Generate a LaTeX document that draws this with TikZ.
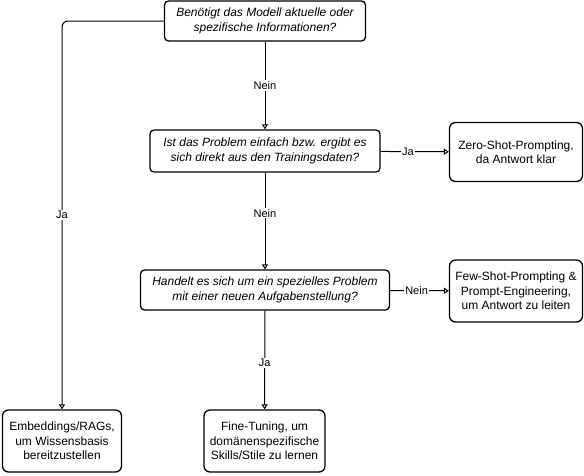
\documentclass[tikz,border=0pt]{standalone}
\usepackage{fontspec}
\setmainfont{Liberation Sans}
\usetikzlibrary{arrows.meta}
\tikzset{
  frage/.style={draw, line width=1.3pt, rounded corners=4pt, align=center, inner sep=0pt, font=\fontsize{12}{14.5}\selectfont\itshape},
  antwort/.style={draw, line width=1.3pt, rounded corners=6pt, align=center, inner sep=0pt, font=\fontsize{12}{14.5}\selectfont},
  beschriftung/.style={fill=white, inner sep=1pt, font=\fontsize{11}{13}\selectfont},
}
\begin{document}
\begin{tikzpicture}[x=1pt, y=-1pt, line width=1pt, >={Triangle[open, length=5pt, width=6pt]}]
\useasboundingbox (0,0) rectangle (584,475);
% Fragen
\node[frage, minimum width=201pt, minimum height=40pt] (frage1) at (265,21) {Benötigt das Modell aktuelle oder\\spezifische Informationen?};
\node[frage, minimum width=230pt, minimum height=42pt] (frage2) at (265,151) {Ist das Problem einfach bzw. ergibt es\\sich direkt aus den Trainingsdaten?};
\node[frage, minimum width=249pt, minimum height=40pt] (frage3) at (265,290) {Handelt es sich um ein spezielles Problem\\mit einer neuen Aufgabenstellung?};
% Antworten
\node[antwort, minimum width=133pt, minimum height=59pt] (zeroshot) at (516,152) {Zero-Shot-Prompting,\\da Antwort klar};
\node[antwort, minimum width=133pt, minimum height=62pt] (fewshot) at (516,291) {Few-Shot-Prompting \&\\Prompt-Engineering,\\um Antwort zu leiten};
\node[antwort, minimum width=121pt, minimum height=62pt] (finetuning) at (264.5,441) {Fine-Tuning, um\\domänenspezifische\\Skills/Stile zu lernen};
\node[antwort, minimum width=119pt, minimum height=62pt] (embeddings) at (62,441) {Embeddings/RAGs,\\um Wissensbasis\\bereitzustellen};
% Verbindungen
\draw[->, rounded corners=6pt] (frage1.west) -| node[beschriftung, pos=0.75] {Ja} (embeddings.north);
\draw[->] (frage1) -- node[beschriftung] {Nein} (frage2);
\draw[->] (frage2) -- node[beschriftung, pos=0.4] {Ja} (zeroshot);
\draw[->] (frage2) -- node[beschriftung, pos=0.42] {Nein} (frage3);
\draw[->] (frage3) -- node[beschriftung, pos=0.45] {Nein} (fewshot);
\draw[->] (frage3) -- node[beschriftung, pos=0.53] {Ja} (finetuning);
\end{tikzpicture}
\end{document}
